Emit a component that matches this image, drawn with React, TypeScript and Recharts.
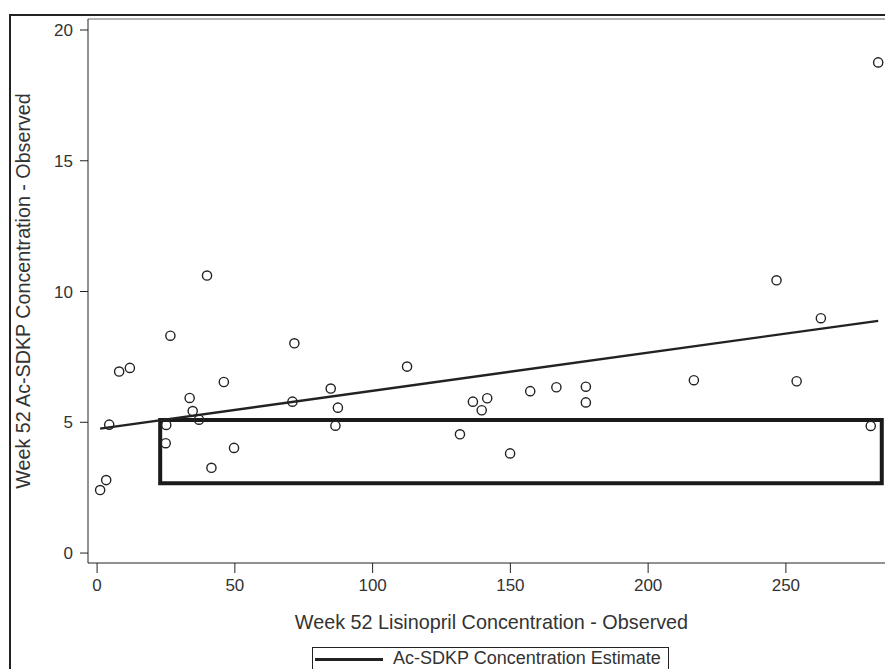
import React from "react";
import {
  ScatterChart,
  Scatter,
  XAxis,
  YAxis,
  ReferenceArea,
  ReferenceLine,
} from "recharts";

// observed week-52 concentrations (lisinopril, Ac-SDKP)
const lisinopril = [
  1.1, 3.3, 4.4, 8.0, 11.9, 26.6, 39.9, 33.6, 34.7, 37.0, 25.1, 24.9, 41.5, 49.7,
  46.0, 71.6, 70.9, 84.8, 87.4, 86.5, 112.5, 131.7, 136.4, 139.6, 141.6, 149.9,
  157.2, 166.7, 177.4, 177.4, 216.6, 246.6, 253.9, 262.7, 280.8, 283.5,
];
const acSdkp = [
  2.41, 2.79, 4.91, 6.94, 7.08, 8.31, 10.61, 5.93, 5.43, 5.1, 4.9, 4.2, 3.26, 4.02,
  6.54, 8.02, 5.79, 6.29, 5.56, 4.87, 7.13, 4.54, 5.79, 5.46, 5.92, 3.81, 6.19,
  6.34, 6.36, 5.76, 6.61, 10.43, 6.57, 8.98, 4.86, 18.76,
];

// fitted estimate line end points
const fitX = [1.1, 283.5];
const fitY = [4.76, 8.88];

// highlighted box (data units)
const boxX = [22.9, 284.8];
const boxY = [2.67, 5.09];

const xTicks = [0, 50, 100, 150, 200, 250];
const yTicks = [0, 5, 10, 15, 20];
const xDomain = [-3.3, 289.6];
const yDomain = [-0.38, 20.42];

const points = lisinopril.map((x, i) => ({ x, y: acSdkp[i] }));
const fitLine = fitX.map((x, i) => ({ x, y: fitY[i] }));

const FONT = 'Arial, "Liberation Sans", sans-serif';
const INK = "#222";

const OpenCircle = (props: any) => {
  const { cx, cy } = props;
  return <circle cx={cx} cy={cy} r={4.6} fill="none" stroke={INK} strokeWidth={1.4} />;
};

export default function App() {
  return (
    <div
      style={{
        position: "fixed",
        left: 0,
        top: 0,
        width: 885,
        height: 669,
        overflow: "hidden",
        background: "#fff",
        fontFamily: FONT,
      }}
    >
      {/* outer figure frame */}
      <div
        style={{
          position: "absolute",
          left: 9,
          top: 14,
          width: 900,
          height: 700,
          borderLeft: `2px solid ${INK}`,
          borderTop: `2px solid ${INK}`,
        }}
      />
      <div style={{ position: "absolute", left: 0, top: 0 }}>
        <ScatterChart
          width={910}
          height={700}
          margin={{ top: 19, right: 15, left: 0, bottom: 67 }}
        >
          <XAxis
            type="number"
            dataKey="x"
            domain={xDomain}
            ticks={xTicks}
            allowDataOverflow
            height={70}
            stroke={INK}
            tickSize={10}
            tickMargin={6}
            tick={{ fill: "#333", fontSize: 17, fontFamily: FONT }}
            label={{
              value: "Week 52 Lisinopril Concentration - Observed",
              position: "insideBottom",
              offset: 4,
              fill: "#333",
              fontSize: 19.8,
              fontFamily: FONT,
            }}
          />
          <YAxis
            type="number"
            dataKey="y"
            domain={yDomain}
            ticks={yTicks}
            allowDataOverflow
            width={88}
            stroke={INK}
            tickSize={8}
            tickMargin={7}
            tick={{ fill: "#333", fontSize: 17, fontFamily: FONT }}
            label={{
              value: "Week 52 Ac-SDKP Concentration - Observed",
              angle: -90,
              position: "insideLeft",
              offset: 23,
              fill: "#333",
              fontSize: 19.7,
              fontFamily: FONT,
              style: { textAnchor: "middle" },
            }}
          />
          <ReferenceLine y={yDomain[1]} stroke="#999" strokeWidth={1.5} />
          <ReferenceArea
            x1={boxX[0]}
            x2={boxX[1]}
            y1={boxY[0]}
            y2={boxY[1]}
            fill="none"
            fillOpacity={0}
            stroke="#1a1a1a"
            strokeWidth={4}
          />
          <Scatter
            data={fitLine}
            line={{ stroke: INK, strokeWidth: 2.4 }}
            shape={() => <g />}
            isAnimationActive={false}
          />
          <Scatter data={points} shape={<OpenCircle />} isAnimationActive={false} />
        </ScatterChart>
      </div>
      {/* legend */}
      <div
        style={{
          position: "absolute",
          left: 312,
          top: 647,
          width: 357,
          height: 30,
          border: `1.5px solid ${INK}`,
          display: "flex",
          alignItems: "flex-start",
          paddingTop: 0,
          boxSizing: "border-box",
          color: "#333",
          fontSize: 18,
        }}
      >
        <div
          style={{
            width: 68,
            height: 3,
            background: INK,
            marginLeft: 2,
            marginTop: 10,
            marginRight: 10,
          }}
        />
        <span style={{ lineHeight: "21px", whiteSpace: "nowrap" }}>
          Ac-SDKP Concentration Estimate
        </span>
      </div>
    </div>
  );
}
